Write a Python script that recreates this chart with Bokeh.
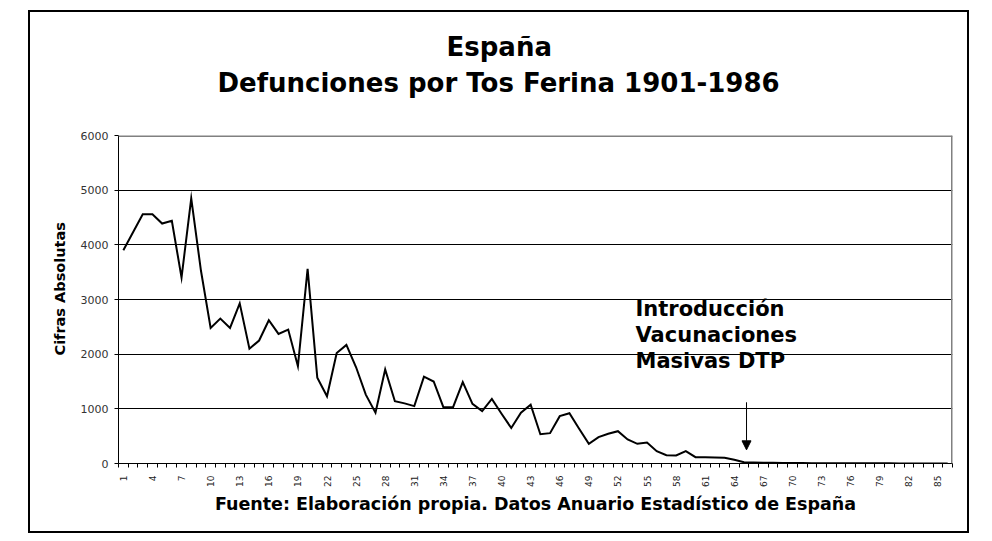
from bokeh.plotting import figure
from bokeh.models import (Range1d, FixedTicker, Label, Arrow, NormalHead, Span, Title)
from bokeh.embed import file_html
from bokeh.resources import INLINE
import math

# ---- data -------------------------------------------------------------
years_idx = list(range(1, 87))  # 1 = 1901 ... 86 = 1986
deaths = [3900, 4230, 4560, 4560, 4390, 4440, 3400, 4850, 3530, 2480,
          2650, 2480, 2930, 2100, 2250, 2620, 2370, 2450, 1780, 3560,
          1570, 1230, 2020, 2170, 1760, 1260, 930, 1720, 1140, 1100,
          1050, 1590, 1500, 1030, 1030, 1490, 1090, 960, 1180, 910,
          650, 930, 1075, 535, 555, 866, 920, 634, 360, 482,
          543, 591, 439, 360, 384, 225, 152, 146, 225, 115,
          115, 112, 104, 68, 24, 18, 15, 12, 10, 8,
          7, 6, 6, 5, 5, 4, 4, 3, 3, 3,
          2, 2, 2, 1, 1, 1]
x_tick_labels = list(range(1, 87, 3))
y_ticks = [0, 1000, 2000, 3000, 4000, 5000, 6000]
title_lines = ["España", "Defunciones por Tos Ferina 1901-1986"]
note_lines = ["Introducción", "Vacunaciones", "Masivas DTP"]
x_title = "Fuente: Elaboración propia. Datos Anuario Estadístico de España"
y_title = "Cifras Absolutas"
vacc_idx = 65.26

FONT = "DejaVu Sans"

p = figure(width=941, height=523, x_range=Range1d(0.5, 86.5), y_range=Range1d(0, 6000),
           output_backend="svg", toolbar_location=None, title=None,
           min_border_left=88, min_border_right=19, min_border_top=123, min_border_bottom=72)
p.styles = {"border": "2px solid black", "margin-left": "28px", "margin-top": "10px"}
p.background_fill_color = "white"
p.border_fill_color = "white"
p.outline_line_color = None

# grid
p.xgrid.visible = False
p.ygrid.ticker = FixedTicker(ticks=y_ticks[1:-1])
p.ygrid.grid_line_color = "black"
p.ygrid.grid_line_width = 1

# y axis
p.yaxis.ticker = FixedTicker(ticks=y_ticks)
p.yaxis.axis_line_color = "black"
p.yaxis.major_tick_in = 0
p.yaxis.major_tick_out = 4
p.yaxis.minor_tick_line_color = None
p.yaxis.major_label_text_font = FONT
p.yaxis.major_label_text_font_size = "11px"
p.yaxis.major_label_text_color = "#333333"
p.yaxis.major_label_standoff = 6

# x axis
p.xaxis.ticker = FixedTicker(ticks=x_tick_labels, minor_ticks=[i + 0.5 for i in range(0, 87)])
p.xaxis.axis_line_color = "black"
p.xaxis.major_tick_in = 0
p.xaxis.major_tick_out = 0
p.xaxis.minor_tick_in = 0
p.xaxis.minor_tick_out = 4
p.xaxis.minor_tick_line_color = "black"
p.xaxis.major_label_orientation = math.pi / 2
p.xaxis.major_label_text_font = FONT
p.xaxis.major_label_text_font_size = "9px"
p.xaxis.major_label_text_color = "#222222"
p.xaxis.major_label_standoff = 8
p.xaxis.axis_label = x_title
p.xaxis.axis_label_text_font = FONT
p.xaxis.axis_label_text_font_style = "bold"
p.xaxis.axis_label_text_font_size = "17.5px"
p.xaxis.axis_label_text_color = "black"
p.xaxis.axis_label_standoff = 4

# y title in left panel
p.add_layout(Title(text=y_title, align="left", offset=108, standoff=20,
                   text_font=FONT, text_font_style="bold", text_font_size="14.5px",
                   text_color="black"), "left")

# titles (first added is nearest the frame); spacer first
p.add_layout(Title(text=" ", text_font_size="10px", standoff=23), "above")
p.add_layout(Title(text=title_lines[1], align="left", offset=99, standoff=4,
                   text_font=FONT, text_font_style="bold", text_font_size="26px",
                   text_color="black"), "above")
p.add_layout(Title(text=title_lines[0], align="left", offset=328, standoff=4,
                   text_font=FONT, text_font_style="bold", text_font_size="26px",
                   text_color="black"), "above")

# gray frame top/right
p.add_layout(Span(location=6000, dimension="width", line_color="#808080", line_width=3))
p.add_layout(Span(location=86.5, dimension="height", line_color="#808080", line_width=3))

# series
p.line(years_idx, deaths, line_color="black", line_width=2, line_join="miter")

# arrow
p.add_layout(Arrow(x_start=vacc_idx, y_start=1120, x_end=vacc_idx, y_end=250,
                   line_color="black", line_width=1,
                   end=NormalHead(size=9, fill_color="black", line_color="black")))

# annotation text
for txt, yy in zip(note_lines, [2835, 2359, 1884]):
    p.add_layout(Label(x=53.81, y=yy, text=txt, text_font=FONT, text_font_style="bold",
                       text_font_size="21px", text_color="black",
                       text_align="left", text_baseline="alphabetic"))

open("out.html", "w").write(file_html(p, INLINE))
